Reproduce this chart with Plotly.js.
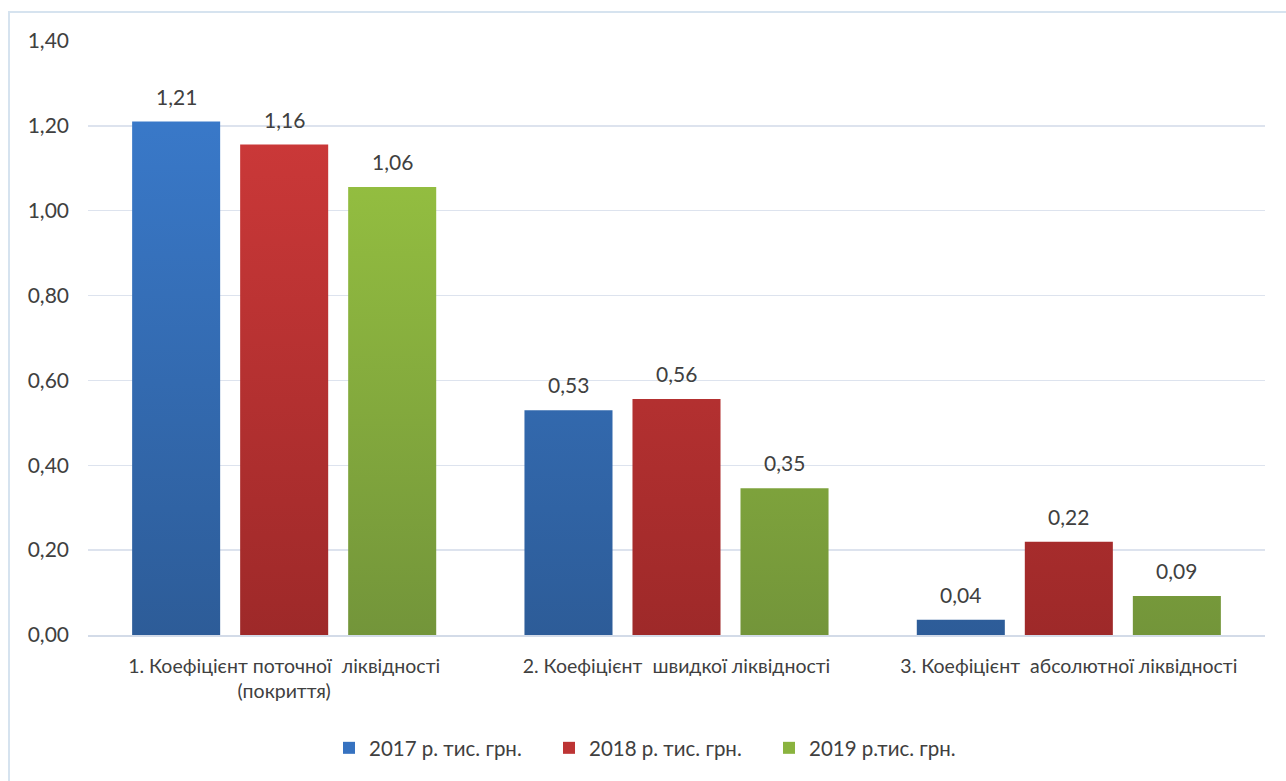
<!DOCTYPE html>
<html>
<head>
<meta charset="utf-8">
<script src="https://cdn.plot.ly/plotly-3.0.1.min.js"></script>
<style>
  html, body { margin: 0; padding: 0; background: #ffffff; }
  #chart { width: 1286px; height: 781px; }
</style>
</head>
<body>
<div id="chart"></div>
<script>
const categories = [
  "1. Коефіцієнт поточної  ліквідності<br>(покриття)",
  "2. Коефіцієнт  швидкої ліквідності",
  "3. Коефіцієнт  абсолютної ліквідності"
];
const seriesNames = ["2017 р. тис. грн.", "2018 р. тис. грн.", "2019 р.тис. грн."];
const values2017 = [1.21, 0.53, 0.036];
const values2018 = [1.156, 0.556, 0.22];
const values2019 = [1.056, 0.346, 0.092];
const yTicks = [0, 0.2, 0.4, 0.6, 0.8, 1.0, 1.2, 1.4];

const colors = ["#3672c0", "#bd3434", "#8ab33e"];
const grads = [["#3b7dd0", "#2d5c98"], ["#d33b3b", "#9e2929"], ["#9dca42", "#73953a"]];
const allValues = [values2017, values2018, values2019];

const FAM = "Lato, 'Open Sans', sans-serif";
const COL = "#404040";
const numFont = { family: FAM, size: 21, color: COL };
const catFont = { family: FAM, size: 19.5, color: COL };
const legFont = { family: FAM, size: 20.5, color: COL };

// plot area: x 88..1265, y 41..635
const L = 88, R = 1265, T = 41, B = 635;
const W = R - L, H = B - T;
const px = v => (v - L) / W;
const py = v => (B - v) / H;

const BARGAP = 0.174, GROUPGAP = 0.185;
const nSeries = allValues.length;
const slot = (1 - BARGAP) / nSeries;

const traces = allValues.map((vals, i) => ({
  type: "bar",
  name: seriesNames[i],
  x: categories,
  y: vals,
  marker: { color: colors[i], line: { width: 0 } },
  hoverinfo: "none"
}));

// value labels above bars, positioned from the data through the axes
const annotations = [];
allValues.forEach((vals, i) => {
  vals.forEach((v, j) => {
    annotations.push({
      xref: "x", yref: "y",
      x: j + (i - (nSeries - 1) / 2) * slot,
      y: v,
      text: v.toFixed(2).replace(".", ","),
      showarrow: false,
      xanchor: "center",
      yanchor: "bottom",
      yshift: 11,
      font: numFont
    });
  });
});

const layout = {
  width: 1286,
  height: 781,
  margin: { l: L, r: 1286 - R, t: T, b: 781 - B, pad: 0 },
  paper_bgcolor: "#ffffff",
  plot_bgcolor: "#ffffff",
  separators: ", ",
  barmode: "group",
  bargap: BARGAP,
  bargroupgap: GROUPGAP,
  font: catFont,
  showlegend: true,
  legend: {
    orientation: "h",
    x: px(659),
    xanchor: "center",
    y: py(748),
    yanchor: "middle",
    font: legFont,
    entrywidth: 175,
    entrywidthmode: "pixels",
    traceorder: "normal"
  },
  xaxis: {
    type: "category",
    range: [-0.5, 2.5],
    showgrid: false,
    showline: true,
    linecolor: "#d3dbe8",
    linewidth: 1.5,
    ticks: "",
    tickfont: catFont,
    ticklabelstandoff: 13,
    fixedrange: true
  },
  yaxis: {
    range: [0, 1.4],
    tickvals: yTicks,
    tickformat: ".2f",
    showgrid: true,
    gridcolor: "#dde3ee",
    gridwidth: 1.5,
    zeroline: false,
    showline: false,
    ticks: "",
    tickfont: numFont,
    ticklabelstandoff: 18,
    fixedrange: true
  },
  annotations: annotations,
  shapes: [{
    type: "rect",
    xref: "paper", yref: "paper",
    x0: px(9), x1: px(1292),
    y0: py(790), y1: py(12),
    line: { color: "#d6e3ef", width: 2 },
    fillcolor: "rgba(0,0,0,0)",
    layer: "below"
  }]
};

Plotly.newPlot("chart", traces, layout, { staticPlot: true, displayModeBar: false }).then(gd => {
  // vertical gradients on the bars, as in the reference
  const svg = gd.querySelector("svg.main-svg");
  const ns = "http://www.w3.org/2000/svg";
  let defs = svg.querySelector("defs");
  if (!defs) { defs = document.createElementNS(ns, "defs"); svg.insertBefore(defs, svg.firstChild); }
  grads.forEach((g, i) => {
    const lg = document.createElementNS(ns, "linearGradient");
    lg.setAttribute("id", "barGrad" + i);
    lg.setAttribute("gradientUnits", "userSpaceOnUse");
    lg.setAttribute("x1", "0"); lg.setAttribute("x2", "0");
    lg.setAttribute("y1", "0"); lg.setAttribute("y2", String(H));
    const s1 = document.createElementNS(ns, "stop");
    s1.setAttribute("offset", "0"); s1.setAttribute("stop-color", g[0]);
    const s2 = document.createElementNS(ns, "stop");
    s2.setAttribute("offset", "1"); s2.setAttribute("stop-color", g[1]);
    lg.appendChild(s1); lg.appendChild(s2);
    defs.appendChild(lg);
  });
  gd.querySelectorAll(".barlayer .trace.bars").forEach((tg, i) => {
    tg.querySelectorAll("path").forEach(p => { p.style.fill = "url(#barGrad" + i + ")"; });
  });
});
</script>
</body>
</html>
